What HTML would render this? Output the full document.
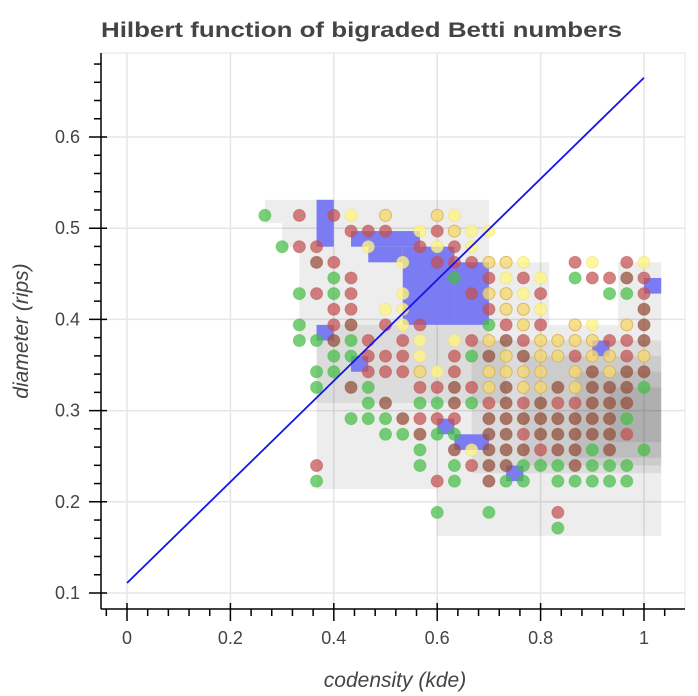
<!DOCTYPE html>
<html><head><meta charset="utf-8"><style>
html,body{margin:0;padding:0;background:#fff;}
svg{display:block;font-family:"Liberation Sans",Arial,sans-serif;}
</style></head><body>
<svg id="chart" width="698" height="696" viewBox="0 0 698 696">
<text x="101" y="37" font-size="21" font-weight="bold" fill="#444" textLength="521" lengthAdjust="spacingAndGlyphs">Hilbert function of bigraded Betti numbers</text>
<rect x="101" y="53" width="584" height="556" fill="#fff" stroke="#e5e5e5"/>
<g id="grid"></g>
<g id="heat"></g>
<g id="blue"></g>
<g id="dots"></g>
<g id="diag"></g>
<g id="axes"></g>
<text x="395" y="687" font-size="21" font-style="italic" fill="#444" text-anchor="middle">codensity (kde)</text>
<text transform="translate(28,331) rotate(-90)" font-size="21" font-style="italic" fill="#444" text-anchor="middle">diameter (rips)</text>
</svg>
<script>
const xTicks=[0,0.2,0.4,0.6,0.8,1];
const xTickLabels=["0","0.2","0.4","0.6","0.8","1"];
const yTicks=[0.1,0.2,0.3,0.4,0.5,0.6];
const yTickLabels=["0.1","0.2","0.3","0.4","0.5","0.6"];
const lineX=[0,1];
const lineY=[0.111,0.665];
// dot grid: column index c (x=c/30), rows r (y=0.514-r*0.01714), columns 8..31
const dotRows=[
"g.r.ry.o..oy............",
".....rrr.yroyy..........",
".grr..y..ryry...........",
"...br...y.rrrooy..ry.ry.",
"....gr.....g.ryry.grrbr.",
"..grgr..y...rooyr...ggr.",
"....rr.yy....rooy.....b.",
"..g.rb.ryr...gror.oy.ob.",
"..ggbgr.ry.yrobroooorrb.",
"....ggrrry.rgboboorooro.",
"...gg.rrroyr.oooo.obobb.",
"...g.bg..rrbroboobobbbg.",
"......gb.ggbgrbrbrrbbb..",
".....gggbrrr.bbbbbbbbg..",
".......ggbgg.bbrbbbbbr..",
".........g.bybbbrbbgb.g.",
"...r.....g.grbbgggbggg..",
"...g......rg.bgg.ggggg..",
"........................",
"..........g..g...r......",
".................g......"
];
// heatmap cells [c0,c1,r0,r1]
const grayCells=[
[8,21,-1,0.5],[9,21,0.5,2],[10,21,2,8],[11,22,8,12],[11,31,7,16.5],
[21,24.5,3,7],[28.5,31,3,7],[11,18,16.5,17.5],[18,31,16.5,20.5],
[20,31,8,16.5],[23,31,9,16],[26,31,10,15.5],[28,31,11,14.5]
];
const blueCells=[
[11,12,-1,2],[13,17,1,2],[14,16,2,3],[16,19,2,7],[19,21,3,7],[11,12,7,8],[13,14,9,10],
[18,19,13,14],[19,21,14,15],[22,23,16,17],[30,31,4,5],[27,28,8,9]
];
const colors={g:"rgba(70,190,70,0.72)",r:"rgba(195,80,80,0.72)",b:"rgba(150,80,60,0.75)",y:"rgba(255,245,130,0.78)",o:"rgba(245,215,110,0.78)"};
const strokes={g:"rgba(70,190,70,0.5)",r:"rgba(195,80,80,0.5)",b:"rgba(150,80,60,0.5)",y:"rgba(240,225,120,0.6)",o:"rgba(215,180,90,0.9)"};

const NS="http://www.w3.org/2000/svg";
const xs=v=>127+v*517;
const ys=v=>593-(v-0.1)*912;
const colX=c=>c/30;
const rowY=r=>0.514-r*0.01714;
function mk(tag,attrs,parent){const e=document.createElementNS(NS,tag);for(const k in attrs)e.setAttribute(k,attrs[k]);parent.appendChild(e);return e;}
const G=id=>document.getElementById(id);

xTicks.forEach(t=>{const l=mk('line',{x1:xs(t),x2:xs(t),y1:53,y2:609,stroke:'#e5e5e5','stroke-width':1.5},G('grid'));

});
yTicks.forEach(t=>{const l=mk('line',{x1:101,x2:685,y1:ys(t),y2:ys(t),stroke:'#e5e5e5','stroke-width':1.5},G('grid'));

});

grayCells.forEach(c=>{const x0=xs(colX(c[0])),x1=xs(colX(c[1])),y0=ys(rowY(c[2])),y1=ys(rowY(c[3]));
const e=mk('rect',{x:x0,y:y0,width:x1-x0,height:y1-y0,fill:'rgba(0,0,0,0.07)'},G('heat'));

});
blueCells.forEach(c=>{const x0=xs(colX(c[0])),x1=xs(colX(c[1])),y0=ys(rowY(c[2])),y1=ys(rowY(c[3]));
const e=mk('rect',{x:x0,y:y0,width:x1-x0,height:y1-y0,fill:'#7b7bf3'},G('blue'));

});

dotRows.forEach((row,r)=>{for(let i=0;i<row.length;i++){const ch=row[i];if(ch==='.')continue;const c=i+8;
const e=mk('circle',{cx:xs(colX(c)),cy:ys(rowY(r)),r:6,fill:colors[ch],stroke:strokes[ch],'stroke-width':1},G('dots'));

}});

const dl=mk('line',{x1:xs(lineX[0]),y1:ys(lineY[0]),x2:xs(lineX[1]),y2:ys(lineY[1]),stroke:'#1515e8','stroke-width':1.8},G('diag'));



const ax=G('axes');
const xa=mk('line',{x1:101,x2:685,y1:609,y2:609,stroke:'#000','stroke-width':1.5},ax);


const ya=mk('line',{x1:101,x2:101,y1:53,y2:609,stroke:'#000','stroke-width':1.5},ax);


for(let k=-1;k<=27;k++){const v=k*0.04;const px=xs(v);if(px<102||px>684)continue;
const major=(k%5===0);
const t=mk('line',{x1:px,x2:px,y1:major?603:609,y2:major?621:616,stroke:'#000','stroke-width':1.5},ax);

}
for(let k=0;k<=30;k++){const v=0.1+k*0.02;const py=ys(v);if(py<54||py>608)continue;
const major=(k%5===0);
const t=mk('line',{x1:major?89:94,x2:major?107:101,y1:py,y2:py,stroke:'#000','stroke-width':1.5},ax);

}
xTicks.forEach((t,i)=>{const e=mk('text',{x:xs(t),y:644,'font-size':18,fill:'#444','text-anchor':'middle'},ax);e.textContent=xTickLabels[i];

});
yTicks.forEach((t,i)=>{const e=mk('text',{x:80,y:ys(t)+6,'font-size':18,fill:'#444','text-anchor':'end'},ax);e.textContent=yTickLabels[i];

});
</script>
</body></html>
